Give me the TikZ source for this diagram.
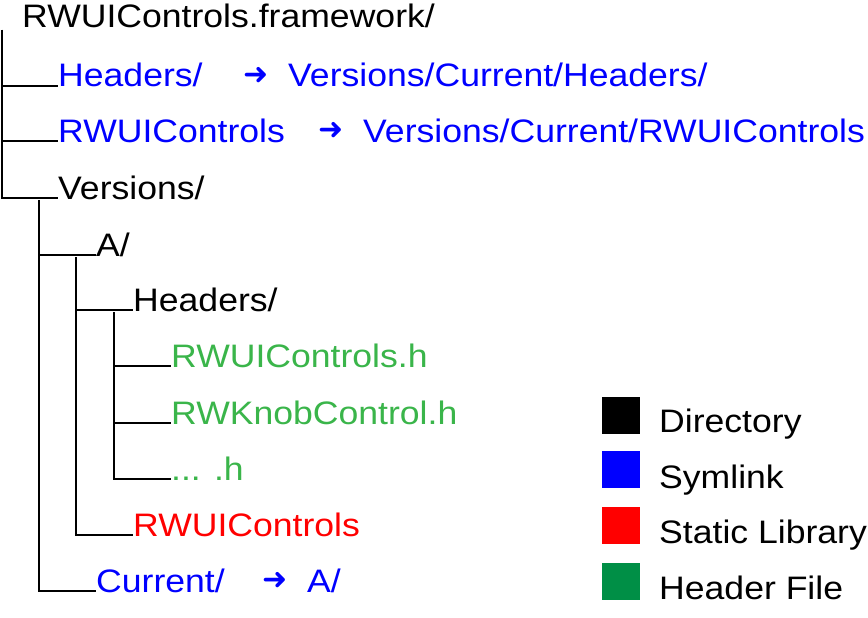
\documentclass[tikz,border=0pt]{standalone}
\usepackage{fontspec}
\setmainfont{Liberation Sans}[FakeStretch=1.095]
\newfontfamily\symfont{DejaVu Sans}
\definecolor{lnkblue}{RGB}{0,0,255}
\definecolor{hdrgreen}{RGB}{58,181,74}
\definecolor{libred}{RGB}{255,0,0}
\definecolor{keygreen}{RGB}{0,143,70}
\begin{document}
\begin{tikzpicture}[x=1pt,y=-1pt,
  item/.style={anchor=base west,inner sep=0pt,font=\fontsize{32.5}{38}\selectfont},
  dirtxt/.style={item,text=black},
  lnktxt/.style={item,text=lnkblue},
  hdrtxt/.style={item,text=hdrgreen},
  libtxt/.style={item,text=libred},
  arr/.style={anchor=center,inner sep=0pt,text=lnkblue,font=\symfont\fontsize{30}{30}\selectfont},
  branch/.style={draw=black,line width=2.2pt},
  keybox/.style={minimum width=38pt,minimum height=37pt,inner sep=0pt,anchor=north west},
  keytxt/.style={item,text=black}]
\useasboundingbox (0,0) rectangle (868,618);
% tree items
\node[dirtxt] (root) at (22,28) {RWUIControls.framework/};
\node[lnktxt] (hdr) at (58,87) {Headers/};
\node[arr] (a1) at (256.5,76) {➜};
\node[lnktxt] (hdrt) at (288,87) {Versions/Current/Headers/};
\node[lnktxt] (bin) at (58,142) {RWUIControls};
\node[arr] (a2) at (331.5,131) {➜};
\node[lnktxt] (bint) at (363,142) {Versions/Current/RWUIControls};
\node[dirtxt] (ver) at (58,199) {Versions/};
\node[dirtxt] (va) at (96,256) {A/};
\node[dirtxt] (vah) at (133,311) {Headers/};
\node[hdrtxt] (h1) at (171,367) {RWUIControls.h};
\node[hdrtxt] (h2) at (171,424) {RWKnobControl.h};
\node[hdrtxt] (h3) at (171,480) {... .h};
\node[libtxt] (lib) at (133,536) {RWUIControls};
\node[lnktxt] (cur) at (96,592) {Current/};
\node[arr] (a3) at (275.5,581) {➜};
\node[lnktxt] (curt) at (307,592) {A/};
% junction coordinates
\coordinate (j0) at (2,30);
\coordinate (j1) at (39,200);
\coordinate (j2) at (76,257);
\coordinate (j3) at (114,312);
% connectors
\draw[branch] (j0) |- ([yshift=1pt]hdr.base west);
\draw[branch] (j0) |- ([yshift=1pt]bin.base west);
\draw[branch] (j0) |- ([yshift=1pt]ver.base west);
\draw[branch] (j1) |- ([yshift=1pt]va.base west);
\draw[branch] (j1) |- ([yshift=1pt]cur.base west);
\draw[branch] (j2) |- ([yshift=1pt]vah.base west);
\draw[branch] (j2) |- ([yshift=1pt]lib.base west);
\draw[branch] (j3) |- ([yshift=1pt]h1.base west);
\draw[branch] (j3) |- ([yshift=1pt]h2.base west);
\draw[branch] (j3) |- ([yshift=1pt]h3.base west);
% legend
\node[keybox,fill=black] (k1) at (602,397) {};
\node[keybox,fill=lnkblue] (k2) at (602,451) {};
\node[keybox,fill=libred] (k3) at (602,507) {};
\node[keybox,fill=keygreen] (k4) at (602,563) {};
\node[keytxt] (t1) at (659,432) {Directory};
\node[keytxt] (t2) at (659,488) {Symlink};
\node[keytxt] (t3) at (659,543) {Static Library};
\node[keytxt] (t4) at (659,599) {Header File};
\end{tikzpicture}
\end{document}
